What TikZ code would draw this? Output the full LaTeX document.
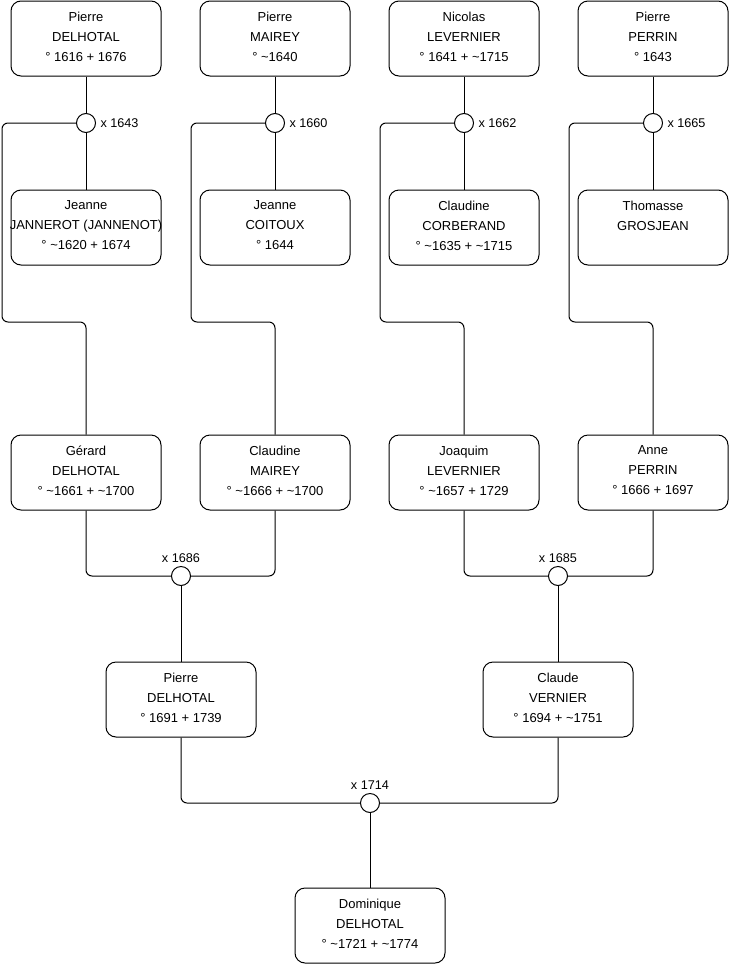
\documentclass[tikz,border=0pt]{standalone}
\usepackage{fontspec}
\setmainfont{Liberation Sans}
\usetikzlibrary{positioning}
\newcommand{\circa}{\textasciitilde}
\begin{document}
\begin{tikzpicture}[x=0.75pt,y=-0.75pt,line width=0.75pt,
    person/.style={draw,rounded corners=7.5pt,minimum width=112.5pt,minimum height=56.25pt,
        inner sep=0pt,align=center,font=\fontsize{9.75}{15}\selectfont,
        execute at end node={\rule[-3pt]{0pt}{0pt}}},
    wed/.style={draw,circle,fill=white,minimum size=14.25pt,inner sep=0pt},
    year/.style={inner sep=1pt,font=\fontsize{9.5}{11}\selectfont},
    link/.style={rounded corners=4.5pt}]
    \useasboundingbox (0,0) rectangle (740,975);
    \node[person] (pd1) at (86,38.5) {Pierre\\DELHOTAL\\° 1616 + 1676};
    \node[person] (pm) at (275,38.5) {Pierre\\MAIREY\\° \circa1640};
    \node[person] (nl) at (464,38.5) {Nicolas\\LEVERNIER\\° 1641 + \circa1715};
    \node[person] (pp) at (653,38.5) {Pierre\\PERRIN\\° 1643};
    \node[person] (jj) at (86,227.5) {Jeanne\\\makebox[0pt]{JANNEROT (JANNENOT)}\\° \circa1620 + 1674};
    \node[person] (jc) at (275,227.5) {Jeanne\\COITOUX\\° 1644};
    \node[person] (cc) at (464,227.5) {Claudine\\CORBERAND\\° \circa1635 + \circa1715};
    \node[person] (tg) at (653,227.5) {Thomasse\\GROSJEAN\\\mbox{}};
    \node[person] (gd) at (86,472.5) {Gérard\\DELHOTAL\\° \circa1661 + \circa1700};
    \node[person] (cm) at (275,472.5) {Claudine\\MAIREY\\° \circa1666 + \circa1700};
    \node[person] (jl) at (464,472.5) {Joaquim\\LEVERNIER\\° \circa1657 + 1729};
    \node[person] (ap) at (653,472.5) {Anne\\PERRIN\\° 1666 + 1697};
    \node[person] (pd2) at (181,699.5) {Pierre\\DELHOTAL\\° 1691 + 1739};
    \node[person] (cv) at (558,699.5) {Claude\\VERNIER\\° 1694 + \circa1751};
    \node[person] (dd) at (370,925.5) {Dominique\\DELHOTAL\\° \circa1721 + \circa1774};

    \node[wed] (m1) at (86,123) {};
    \node[wed] (m2) at (275,123) {};
    \node[wed] (m3) at (464,123) {};
    \node[wed] (m4) at (653,123) {};
    \node[wed] (m5) at (181,576) {};
    \node[wed] (m6) at (558,576) {};
    \node[wed] (m7) at (370,803) {};
    \node[year,right=2pt of m1] (x1) {x 1643};
    \node[year,right=2pt of m2] (x2) {x 1660};
    \node[year,right=2pt of m3] (x3) {x 1662};
    \node[year,right=2pt of m4] (x4) {x 1665};
    \node[year,above=1pt of m5] (x5) {x 1686};
    \node[year,above=1pt of m6] (x6) {x 1685};
    \node[year,above=1pt of m7] (x7) {x 1714};

    \draw (pd1) -- (m1) -- (jj);
    \draw (pm) -- (m2) -- (jc);
    \draw (nl) -- (m3) -- (cc);
    \draw (pp) -- (m4) -- (tg);
    \draw[link] (m1.west) -| (2,322) -| (gd.north);
    \draw[link] (m2.west) -| (191,322) -| (cm.north);
    \draw[link] (m3.west) -| (380,322) -| (jl.north);
    \draw[link] (m4.west) -| (569,322) -| (ap.north);
    \draw[link] (gd.south) |- (m5.west);
    \draw[link] (cm.south) |- (m5.east);
    \draw[link] (jl.south) |- (m6.west);
    \draw[link] (ap.south) |- (m6.east);
    \draw (m5) -- (pd2);
    \draw (m6) -- (cv);
    \draw[link] (pd2.south) |- (m7.west);
    \draw[link] (cv.south) |- (m7.east);
    \draw (m7) -- (dd);
\end{tikzpicture}
\end{document}
